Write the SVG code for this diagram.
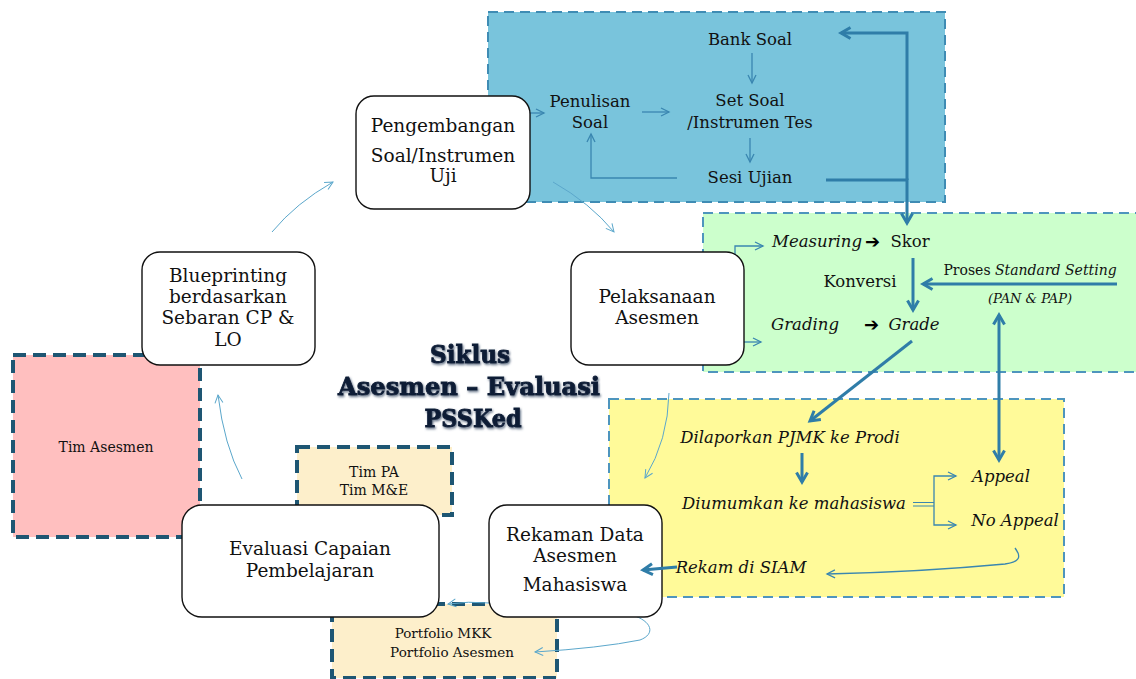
<svg xmlns="http://www.w3.org/2000/svg" width="1136" height="679" viewBox="0 0 1136 679">
  <style>
    .t { font-family: "DejaVu Serif", "Liberation Serif", serif; fill: #111; }
    .node rect { fill: #fff; stroke: #111; stroke-width: 1.4; }
    .node text { font-size: 18.5px; text-anchor: middle; }
    .zone { stroke-width: 2; stroke-dasharray: 10 6; }
    .team-box { stroke: #1E5673; stroke-width: 4; stroke-dasharray: 13 7; }
    .team text { font-size: 14px; text-anchor: middle; }
    .thin { fill: none; stroke: #5BA7CB; stroke-width: 1; marker-end: url(#ahThin); }
    .mid { fill: none; stroke: #3A86B0; stroke-width: 1.3; marker-end: url(#ahMid); }
    .thick { fill: none; stroke: #2F7DA8; stroke-width: 3; marker-end: url(#ahThick); }
    .it { font-style: italic; }
    .arr { font-family: "DejaVu Sans", sans-serif; font-weight: bold; font-size: 18px; fill: #000; }
    .title { font-family: "DejaVu Serif", "Liberation Serif", serif; font-weight: bold; font-size: 25px; fill: #0C1B36; stroke: #0C1B36; stroke-width: 0.9; text-anchor: middle; filter: url(#glow); }
  </style>
  <defs>
    <marker id="ahThin" viewBox="0 0 10 10" refX="9" refY="5" markerWidth="10" markerHeight="10" markerUnits="userSpaceOnUse" orient="auto" overflow="visible">
      <path d="M1,1 L9,5 L1,9" fill="none" stroke="#5BA7CB" stroke-width="1"/>
    </marker>
    <marker id="ahMid" viewBox="0 0 10 10" refX="9" refY="5" markerWidth="10" markerHeight="10" markerUnits="userSpaceOnUse" orient="auto-start-reverse" overflow="visible">
      <path d="M1,1 L9,5 L1,9" fill="none" stroke="#3A86B0" stroke-width="1.3"/>
    </marker>
    <marker id="ahThick" viewBox="0 0 14 14" refX="12.5" refY="7" markerWidth="14" markerHeight="14" markerUnits="userSpaceOnUse" orient="auto-start-reverse" overflow="visible">
      <path d="M3,1.5 L12.5,7 L3,12.5" fill="none" stroke="#2F7DA8" stroke-width="3"/>
    </marker>
    <filter id="glow" x="-10%" y="-30%" width="120%" height="160%">
      <feDropShadow dx="1" dy="1.5" stdDeviation="1.2" flood-color="#4F6078" flood-opacity="0.9"/>
    </filter>
  </defs>

  <!-- background zones -->
  <g id="zone-pengembangan">
    <rect class="zone" x="488" y="12" width="457" height="190" fill="#79C4DC" stroke="#3F8CB4"/>
  </g>
  <g id="zone-skoring">
    <rect class="zone" x="703" y="213" width="440" height="159" fill="#CCFFCC" stroke="#4E95BD"/>
  </g>
  <g id="zone-pelaporan">
    <rect class="zone" x="609" y="399" width="455" height="198" fill="#FFFA99" stroke="#4E95BD"/>
  </g>

  <!-- teams -->
  <g id="team-asesmen" class="team">
    <rect class="team-box" x="13" y="355" width="187" height="182" fill="#FFBFBF"/>
    <text class="t" x="106" y="452" font-size="14.5">Tim Asesmen</text>
  </g>
  <g id="team-pa" class="team">
    <rect class="team-box" x="297" y="447" width="155" height="68" fill="#FDEFCB"/>
    <text class="t" x="374" y="477">Tim PA</text>
    <text class="t" x="374" y="495">Tim M&amp;E</text>
  </g>
  <g id="team-portfolio" class="team">
    <rect class="team-box" x="332" y="604" width="225" height="74" fill="#FDEFCB"/>
    <text class="t" x="443" y="638" style="font-size:13.5px">Portfolio MKK</text>
    <text class="t" x="452" y="657" style="font-size:13.5px">Portfolio Asesmen</text>
  </g>

  <!-- connectors -->
  <g id="connectors">
    <!-- main cycle -->
    <path class="thin" d="M272,232 Q296,203 333,182"/>
    <path class="thin" d="M553,182 Q590,203 614,232"/>
    <path class="thin" d="M669,393 Q668,440 645,478"/>
    <path class="thin" d="M490,603 Q468,601 448,604"/>
    <path class="thin" d="M242,479 Q224,445 218,395"/>
    <path class="thin" d="M632,615 C652,621 656,634 640,640 Q600,648 535,652"/>

    <!-- question development -->
    <path class="mid" d="M530,113 H544"/>
    <path class="mid" d="M642,112 H669"/>
    <path class="mid" d="M752,53 V83"/>
    <path class="mid" d="M750,138 V162"/>
    <path class="mid" d="M677,178 H591 V134"/>
    <path class="thick" d="M826,180 H907 V223"/>
    <path class="thick" d="M907,180 V33 H841"/>

    <!-- scoring -->
    <path class="mid" d="M735,262 V246 H763"/>
    <path class="mid" d="M744,342 H761"/>
    <path class="thick" d="M913,258 V310"/>
    <path class="thick" d="M1117,284 H923"/>
    <path class="thick" d="M912,341 L810,421"/>
    <path class="thick" d="M999,315 V460" marker-start="url(#ahThick)"/>

    <!-- reporting -->
    <path class="thick" d="M802,453 V482"/>
    <path fill="none" stroke="#3A86B0" stroke-width="1.2" d="M913,502.5 H934 M913,506 H934"/>
    <path class="mid" d="M934,504 V476 H956"/>
    <path class="mid" d="M934,504 V525 H956"/>
    <path fill="none" stroke="#3A86B0" stroke-width="1.3" marker-end="url(#ahMid)" d="M1015,548 C1021,556 1021,562 1005,564 Q920,572 827,574"/>
  </g>

  <!-- zone labels -->
  <g id="soal-labels" class="t" font-size="16.5" text-anchor="middle">
    <text x="750" y="45">Bank Soal</text>
    <text x="590" y="107">Penulisan</text>
    <text x="590" y="128">Soal</text>
    <text x="750" y="106">Set Soal</text>
    <text x="750" y="128">/Instrumen Tes</text>
    <text x="750" y="183">Sesi Ujian</text>
  </g>
  <g id="skor-labels" class="t" font-size="16.5">
    <text class="t it" x="817" y="247" text-anchor="middle">Measuring</text>
    <text class="arr" x="865" y="248">➔</text>
    <text x="910" y="247" text-anchor="middle">Skor</text>
    <text x="860" y="287" text-anchor="middle">Konversi</text>
    <text x="1030" y="275" text-anchor="middle" font-size="14">Proses <tspan font-style="italic">Standard Setting</tspan></text>
    <text class="t it" x="1030" y="303" text-anchor="middle" font-size="13">(PAN &amp; PAP)</text>
    <text class="t it" x="805" y="330" text-anchor="middle">Grading</text>
    <text class="arr" x="864" y="331">➔</text>
    <text class="t it" x="914" y="330" text-anchor="middle">Grade</text>
  </g>
  <g id="lapor-labels" class="t it" font-size="16.5" text-anchor="middle">
    <text x="790" y="443">Dilaporkan PJMK ke Prodi</text>
    <text x="794" y="509">Diumumkan ke mahasiswa</text>
    <text x="1001" y="482">Appeal</text>
    <text x="1015" y="526">No Appeal</text>
    <text x="741" y="573">Rekam di SIAM</text>
  </g>

  <!-- title -->
  <g id="title">
    <text class="title" x="470" y="363" textLength="80" lengthAdjust="spacingAndGlyphs">Siklus</text>
    <text class="title" x="469" y="395" textLength="262" lengthAdjust="spacingAndGlyphs">Asesmen – Evaluasi</text>
    <text class="title" x="473" y="427" textLength="97" lengthAdjust="spacingAndGlyphs">PSSKed</text>
  </g>

  <!-- cycle nodes -->
  <g id="node-pengembangan" class="node">
    <rect x="356" y="96" width="174" height="113" rx="18"/>
    <text class="t" x="443" y="132">Pengembangan</text>
    <text class="t" x="443" y="162">Soal/Instrumen</text>
    <text class="t" x="443" y="182">Uji</text>
  </g>
  <g id="node-blueprinting" class="node">
    <rect x="142" y="252" width="173" height="113" rx="18"/>
    <text class="t" x="228" y="282">Blueprinting</text>
    <text class="t" x="228" y="303">berdasarkan</text>
    <text class="t" x="228" y="324">Sebaran CP &amp;</text>
    <text class="t" x="228" y="346">LO</text>
  </g>
  <g id="node-pelaksanaan" class="node">
    <rect x="571" y="252" width="173" height="113" rx="18"/>
    <text class="t" x="657" y="303">Pelaksanaan</text>
    <text class="t" x="657" y="324">Asesmen</text>
  </g>
  <g id="node-evaluasi" class="node">
    <rect x="182" y="505" width="257" height="112" rx="20"/>
    <text class="t" x="310" y="555">Evaluasi Capaian</text>
    <text class="t" x="310" y="577">Pembelajaran</text>
  </g>
  <g id="node-rekaman" class="node">
    <rect x="489" y="505" width="173" height="112" rx="18"/>
    <text class="t" x="575" y="541">Rekaman Data</text>
    <text class="t" x="575" y="562">Asesmen</text>
    <text class="t" x="575" y="591">Mahasiswa</text>
  </g>

  <!-- record arrow drawn over the node edge -->
  <g id="connectors-front">
    <path class="thick" d="M677,567 L643,570"/>
  </g>
</svg>
